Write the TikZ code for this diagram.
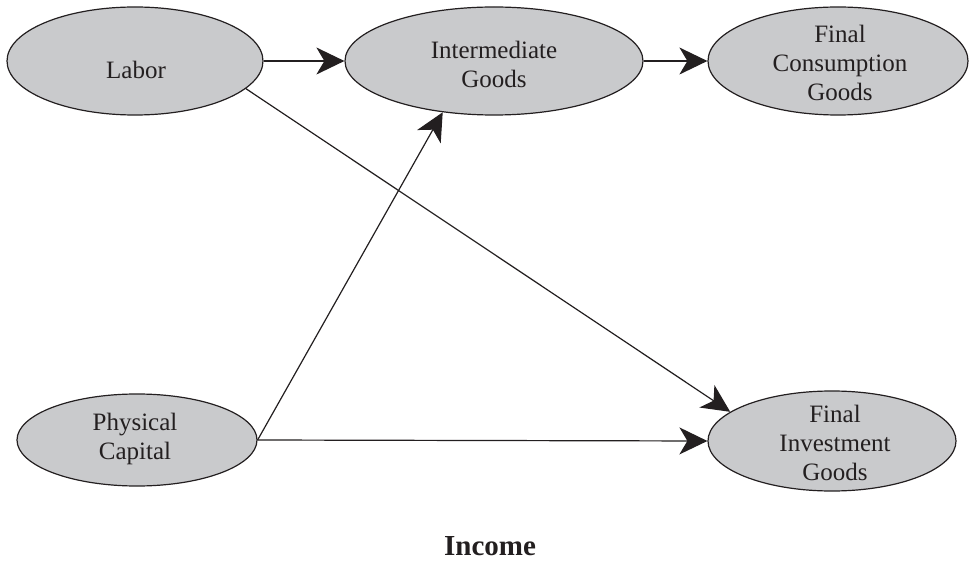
\documentclass[tikz,border=0pt]{standalone}
\usepackage{fontspec}
\setmainfont{Liberation Serif}
\usetikzlibrary{shapes.geometric,arrows.meta}
\definecolor{ovalgray}{RGB}{201,202,204}
\definecolor{inkgray}{RGB}{35,31,32}
\begin{document}
\begin{tikzpicture}[x=1pt,y=-1pt,
  oval/.style={ellipse, draw=inkgray, line width=1.2pt, fill=ovalgray, inner sep=0pt},
  lbl/.style={align=center, font=\fontsize{25}{29}\selectfont, text=inkgray, inner sep=0pt},
  conn/.style={draw=inkgray, line width=1.2pt, -{Stealth[length=28pt,width=27pt,inset=8pt]}}]
\useasboundingbox (0,0) rectangle (969,561);
\fill[white] (0,0) rectangle (969,561);
% ellipses
\node[oval, minimum width=256pt, minimum height=108pt] (labor) at (135,61) {};
\node[oval, minimum width=298pt, minimum height=108pt] (inter) at (494,61) {};
\node[oval, minimum width=260pt, minimum height=108pt] (cons) at (838,61) {};
\node[oval, minimum width=240pt, minimum height=92pt] (phys) at (137,440) {};
\node[oval, minimum width=248pt, minimum height=100pt] (inv) at (832,441) {};
% texts
\node[lbl] (laborT) at (136,70) {Labor};
\node[lbl] (interT) at (494,64) {Intermediate\\Goods};
\node[lbl] (consT) at (840,63) {Final\\Consumption\\Goods};
\node[lbl] (physT) at (135,439) {Physical\\Capital};
\node[lbl] (invT) at (835,443) {Final\\Investment\\Goods};
\node[font=\fontsize{29}{32}\selectfont\bfseries, text=inkgray, inner sep=0pt] (income) at (490,546) {Income};
% connectors
\draw[conn] (labor.east) -- (inter.west);
\draw[conn] (inter.east) -- (cons.west);
\draw[conn] (labor.-14) -- (inv.164);
\draw[conn] (phys.east) -- (inter.225);
\draw[conn] (phys.east) -- (inv.west);
\end{tikzpicture}
\end{document}
